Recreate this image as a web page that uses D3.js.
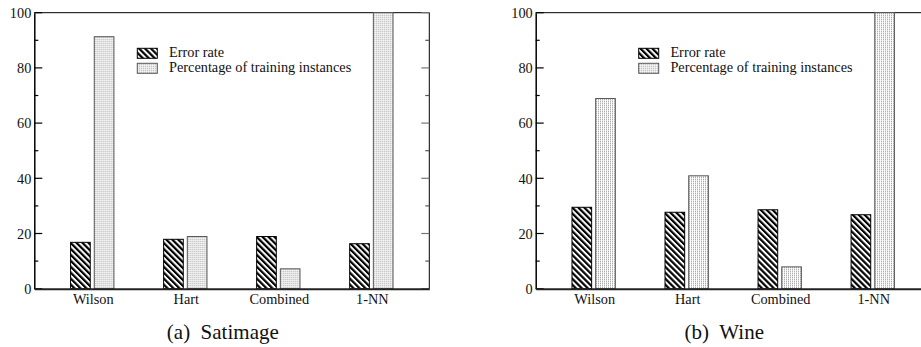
<!DOCTYPE html>
<html>
<head>
<meta charset="utf-8">
<script src="https://cdn.jsdelivr.net/npm/d3@7"></script>
<style>
  html, body { margin: 0; padding: 0; background: #fff; }
</style>
</head>
<body>
<svg id="chart" width="921" height="347"></svg>
<script>
const categories = ["Wilson", "Hart", "Combined", "1-NN"];
const seriesNames = ["Error rate", "Percentage of training instances"];
const satimageError = [16.8, 17.9, 18.9, 16.3];
const satimagePct = [91.3, 18.9, 7.2, 100];
const wineError = [29.5, 27.7, 28.6, 26.8];
const winePct = [68.9, 40.9, 7.9, 100];
const yTicks = [0, 20, 40, 60, 80, 100];
const yMinorTicks = [10, 30, 50, 70, 90];
const captions = ["(a)\u00a0\u00a0Satimage", "(b)\u00a0\u00a0Wine"];

const SERIF = "'Liberation Serif', 'Times New Roman', Times, serif";

const svg = d3.select("#chart");
const defs = svg.append("defs");

// hatch pattern for error rate
const hatch = defs.append("pattern")
  .attr("id", "hatch").attr("patternUnits", "userSpaceOnUse")
  .attr("width", 4.2).attr("height", 4.2)
  .attr("patternTransform", "rotate(-45)");
hatch.append("rect").attr("width", 4.2).attr("height", 4.2).attr("fill", "#fff");
hatch.append("rect").attr("width", 2.2).attr("height", 4.2).attr("fill", "#000");

// stipple pattern for percentage
const dots = defs.append("pattern")
  .attr("id", "dots").attr("patternUnits", "userSpaceOnUse")
  .attr("width", 2).attr("height", 2);
dots.append("rect").attr("width", 2).attr("height", 2).attr("fill", "#fff");
dots.append("rect").attr("width", 1).attr("height", 1).attr("fill", "#8a8a8a");

const W = 395, H = 276;
const topY = 12.7;

function drawChart(x0, errVals, pctVals, caption) {
  const g = svg.append("g").attr("transform", `translate(${x0},${topY})`);
  const x = d3.scaleBand().domain(categories).range([0, W])
    .paddingInner(0.534).paddingOuter(0.39);
  const x1 = d3.scaleBand().domain(seriesNames).range([0, x.bandwidth()]).paddingInner(0.17);
  const y = d3.scaleLinear().domain([0, 100]).range([H, 0]);

  const data = categories.map((c, i) => ({ c, vals: [errVals[i], pctVals[i]] }));

  // frame top & right
  g.append("line").attr("x1", 0).attr("x2", W).attr("y1", 0).attr("y2", 0)
    .attr("stroke", "#000").attr("stroke-width", 1);
  g.append("line").attr("x1", W).attr("x2", W).attr("y1", 0).attr("y2", H)
    .attr("stroke", "#000").attr("stroke-width", 1);

  // bars
  const grp = g.selectAll(".grp").data(data).enter().append("g")
    .attr("transform", d => `translate(${x(d.c)},0)`);
  grp.selectAll("rect").data(d => d.vals.map((v, k) => ({ s: seriesNames[k], v, k })))
    .enter().append("rect")
    .attr("x", d => x1(d.s))
    .attr("width", x1.bandwidth())
    .attr("y", d => y(d.v))
    .attr("height", d => H - y(d.v))
    .attr("fill", d => d.k === 0 ? "url(#hatch)" : "url(#dots)")
    .attr("stroke", d => d.k === 0 ? "#000" : "#555")
    .attr("stroke-width", 1);

  // left axis
  const yAxis = d3.axisLeft(y).tickValues(yTicks).tickSize(0).tickPadding(3);
  const ya = g.append("g").call(yAxis).attr("font-family", SERIF).attr("font-size", 14);
  ya.select(".domain").attr("stroke", "#000").attr("stroke-width", 1.5);
  ya.selectAll("text").style("font-family", SERIF).style("font-size", "14.3px")
    .attr("fill", "#111").attr("dy", "0.34em");
  // inward ticks left
  g.selectAll(".tmaj").data(yTicks).enter().append("line")
    .attr("x1", 0).attr("x2", 8).attr("y1", d => y(d)).attr("y2", d => y(d))
    .attr("stroke", "#000").attr("stroke-width", 1.2);
  g.selectAll(".tmin").data(yMinorTicks).enter().append("line")
    .attr("x1", 0).attr("x2", 4).attr("y1", d => y(d)).attr("y2", d => y(d))
    .attr("stroke", "#000").attr("stroke-width", 1.2);
  // inward ticks right
  g.selectAll(".rmaj").data(yTicks).enter().append("line")
    .attr("x1", W).attr("x2", W - 8).attr("y1", d => y(d)).attr("y2", d => y(d))
    .attr("stroke", "#777").attr("stroke-width", 1.2);
  g.selectAll(".rmin").data(yMinorTicks).enter().append("line")
    .attr("x1", W).attr("x2", W - 4).attr("y1", d => y(d)).attr("y2", d => y(d))
    .attr("stroke", "#555").attr("stroke-width", 1.2);

  // bottom axis
  const xAxis = d3.axisBottom(x).tickSize(0).tickPadding(5);
  const xa = g.append("g").attr("transform", `translate(0,${H})`).call(xAxis)
    .attr("font-family", SERIF).attr("font-size", 14);
  xa.select(".domain").attr("stroke", "#222").attr("stroke-width", 2);
  xa.selectAll("text").style("font-family", SERIF).style("font-size", "14.3px")
    .attr("fill", "#111").attr("dy", "0.71em").attr("dx", 1);

  // legend
  const lg = g.append("g").attr("transform", "translate(103,35.6)");
  seriesNames.forEach((s, k) => {
    lg.append("rect").attr("x", 0).attr("y", k * 15).attr("width", 20).attr("height", 10)
      .attr("fill", k === 0 ? "url(#hatch)" : "url(#dots)")
      .attr("stroke", k === 0 ? "#000" : "#555").attr("stroke-width", 1);
    lg.append("text").attr("x", 31.7).attr("y", k * 15 + 9)
      .style("font-family", SERIF).style("font-size", "14.3px").attr("fill", "#111").text(s);
  });

  // caption
  g.append("text").attr("x", 188.5).attr("y", 339 - topY).attr("text-anchor", "middle")
    .style("font-family", SERIF).style("font-size", "21px").attr("fill", "#111").text(caption);
}

drawChart(34.3, satimageError, satimagePct, captions[0]);
drawChart(535.7, wineError, winePct, captions[1]);
</script>
</body>
</html>
